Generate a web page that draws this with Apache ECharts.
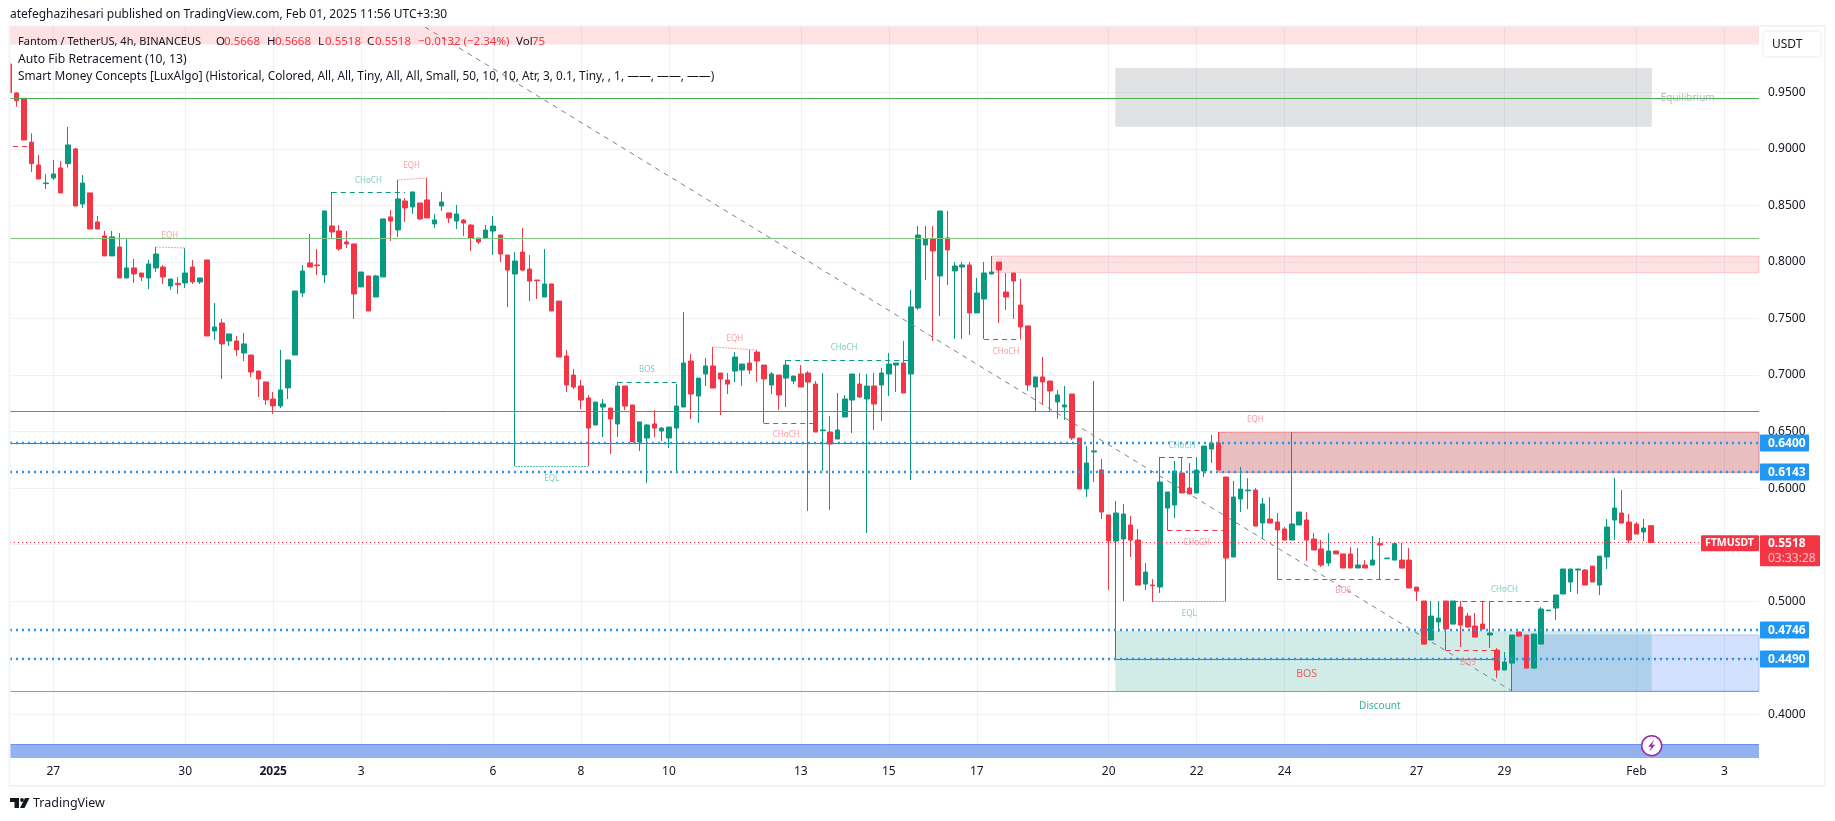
<!DOCTYPE html>
<html>
<head>
<meta charset="utf-8">
<style>
  html, body { margin: 0; padding: 0; background: #fff; }
  #myChart { width: 1835px; height: 821px; }
</style>
<script src="https://cdn.jsdelivr.net/npm/echarts@6/dist/echarts.min.js"></script>
</head>
<body>
<div id="myChart"></div>
<script>
// one row per 4h bar: open, close, low, high
const candles = [
  [0.9750,0.9497,0.9497,0.9750],
  [0.9494,0.9426,0.9373,0.9499],[0.9447,0.9078,0.9078,0.9447],[0.9058,0.8869,0.8795,0.9137],[0.8857,0.8733,0.8733,0.8946],
  [0.8692,0.8698,0.8645,0.8778],[0.8742,0.8778,0.8725,0.8901],[0.8831,0.8610,0.8610,0.8890],[0.8869,0.9034,0.8834,0.9193],
  [0.8999,0.8495,0.8495,0.9008],[0.8512,0.8698,0.8477,0.8769],[0.8610,0.8291,0.8291,0.8610],[0.8353,0.8291,0.8291,0.8406],
  [0.8230,0.8053,0.8053,0.8274],[0.8053,0.8221,0.8053,0.8274],[0.8132,0.7858,0.7858,0.8256],[0.7858,0.7947,0.7858,0.8212],
  [0.7947,0.7894,0.7814,0.8026],[0.7902,0.7867,0.7832,0.7902],[0.7858,0.7982,0.7761,0.8017],[0.7947,0.8070,0.7911,0.8132],
  [0.7955,0.7867,0.7805,0.7973],[0.7787,0.7849,0.7752,0.7849],[0.7811,0.7799,0.7717,0.7867],[0.7814,0.7902,0.7770,0.8123],
  [0.7955,0.7823,0.7805,0.8017],[0.7823,0.7858,0.7805,0.7858],[0.8017,0.7345,0.7345,0.8017],[0.7390,0.7425,0.7310,0.7637],
  [0.7460,0.7275,0.6965,0.7496],[0.7301,0.7363,0.7257,0.7363],[0.7301,0.7222,0.7169,0.7345],[0.7195,0.7275,0.7124,0.7372],
  [0.7177,0.7027,0.6983,0.7177],[0.7036,0.6965,0.6806,0.7036],[0.6939,0.6780,0.6735,0.6939],[0.6788,0.6727,0.6656,0.6850],
  [0.6727,0.6868,0.6709,0.7222],[0.6886,0.7133,0.6788,0.7133],[0.7177,0.7743,0.7177,0.7743],[0.7726,0.7920,0.7690,0.7973],
  [0.7991,0.7955,0.7955,0.8247],[0.7973,0.7967,0.7885,0.8115],[0.7885,0.8451,0.7814,0.8451],[0.8318,0.8265,0.8203,0.8619],
  [0.8274,0.8115,0.8097,0.8327],[0.8177,0.8159,0.8123,0.8274],[0.8159,0.7717,0.7496,0.8159],[0.7779,0.7911,0.7779,0.7911],
  [0.7876,0.7566,0.7566,0.7876],[0.7690,0.7876,0.7690,0.7885],[0.7867,0.8380,0.7867,0.8380],[0.8398,0.8362,0.8185,0.8459],
  [0.8283,0.8557,0.8221,0.8725],[0.8539,0.8477,0.8353,0.8565],[0.8486,0.8619,0.8424,0.8619],[0.8521,0.8380,0.8371,0.8521],
  [0.8548,0.8389,0.8389,0.8742],[0.8336,0.8371,0.8300,0.8424],[0.8495,0.8530,0.8451,0.8619],[0.8433,0.8389,0.8344,0.8433],
  [0.8362,0.8424,0.8291,0.8504],
  [0.8370,0.8344,0.8229,0.8379],[0.8326,0.8211,0.8096,0.8335],[0.8211,0.8176,0.8158,0.8211],[0.8211,0.8282,0.8211,0.8326],
  [0.8273,0.8317,0.8061,0.8406],[0.8238,0.8070,0.7999,0.8238],[0.8061,0.7928,0.7601,0.8061],[0.7893,0.8008,0.6195,0.8087],
  [0.8087,0.7928,0.7919,0.8300],[0.7937,0.7831,0.7654,0.8061],[0.7840,0.7834,0.7672,0.7840],[0.7690,0.7805,0.7690,0.8114],
  [0.7805,0.7566,0.7566,0.7805],[0.7654,0.7159,0.7159,0.7654],[0.7168,0.6912,0.6850,0.7221],[0.7000,0.6894,0.6876,0.7053],
  [0.6903,0.6779,0.6699,0.6956],[0.6797,0.6531,0.6195,0.6823],[0.6558,0.6761,0.6558,0.6761],[0.6717,0.6744,0.6452,0.6788],
  [0.6708,0.6611,0.6302,0.6708],[0.6567,0.6903,0.6452,0.6935],[0.6903,0.6726,0.6691,0.6903],[0.6735,0.6408,0.6408,0.6735],
  [0.6408,0.6585,0.6328,0.6585],[0.6443,0.6558,0.6045,0.6567],[0.6567,0.6531,0.6452,0.6691],[0.6505,0.6531,0.6417,0.6540],
  [0.6443,0.6540,0.6355,0.6540],[0.6531,0.6726,0.6142,0.6920],[0.6717,0.7106,0.6717,0.7557],[0.7124,0.6832,0.6611,0.7186],
  [0.6814,0.6973,0.6576,0.6973],[0.7009,0.7080,0.6903,0.7150],[0.7080,0.6885,0.6885,0.7248],[0.7018,0.6965,0.6646,0.7018],
  [0.6956,0.6920,0.6832,0.7018],[0.7035,0.7159,0.6938,0.7203],[0.7044,0.7097,0.6903,0.7097],[0.7106,0.7044,0.7009,0.7221],
  [0.7203,0.7124,0.6938,0.7221],[0.7088,0.6965,0.6573,0.7088],[0.6912,0.7009,0.6832,0.7027],[0.7000,0.6823,0.6691,0.7000],
  [0.6973,0.7088,0.6717,0.7133],[0.6947,0.6991,0.6920,0.6991],[0.7009,0.6894,0.6894,0.7088],[0.7018,0.6938,0.5798,0.7035],
  [0.6920,0.6496,0.6496,0.6947],[0.6508,0.6514,0.6151,0.7018],[0.6496,0.6390,0.5806,0.6638],[0.6434,0.6514,0.6434,0.6841],
  [0.6629,0.6788,0.6629,0.6823],[0.6779,0.7009,0.6487,0.7009],[0.6920,0.6806,0.6797,0.7018],[0.6788,0.6903,0.5603,0.7009],
  [0.6903,0.6744,0.6514,0.7018],[0.6912,0.7018,0.6593,0.7062],[0.7009,0.7097,0.6814,0.7195],[0.7088,0.7106,0.6850,0.7106],
  [0.7106,0.6841,0.6841,0.7301],
  [0.7009,0.7602,0.6072,0.7752],[0.7593,0.8238,0.7575,0.8318],[0.8150,0.8203,0.7840,0.8318],[0.8203,0.8097,0.7301,0.8318],
  [0.7876,0.8450,0.7522,0.8450],[0.8212,0.8106,0.7796,0.8450],[0.7920,0.7964,0.7319,0.7999],[0.7955,0.7973,0.7319,0.7999],
  [0.7973,0.7549,0.7354,0.7999],[0.7549,0.7725,0.7549,0.7858],[0.7672,0.7902,0.7319,0.7999],[0.7893,0.7911,0.7893,0.8052],
  [0.7999,0.7929,0.7460,0.7999],[0.7734,0.7690,0.7575,0.7902],[0.7902,0.7831,0.7496,0.7902],[0.7619,0.7425,0.7319,0.7849],
  [0.7434,0.6912,0.6859,0.7434],[0.6894,0.6983,0.6682,0.6983],[0.6983,0.6939,0.6735,0.7160],[0.6947,0.6859,0.6682,0.6947],
  [0.6762,0.6824,0.6611,0.6868],[0.6718,0.6735,0.6603,0.6903],[0.6832,0.6443,0.6426,0.6832],[0.6443,0.5993,0.5993,0.6443],
  [0.5993,0.6222,0.5922,0.6373],[0.6320,0.6329,0.6054,0.6947],[0.6161,0.5789,0.5727,0.6258],[0.5763,0.5533,0.5100,0.5763],
  [0.5532,0.5780,0.4489,0.5886],[0.5550,0.5771,0.5002,0.5860],[0.5674,0.5541,0.5391,0.5753],[0.5541,0.5143,0.5143,0.5639],
  [0.5152,0.5258,0.5099,0.5338],[0.5143,0.5138,0.4993,0.5196],[0.5126,0.6054,0.5073,0.6275],[0.5824,0.5966,0.5630,0.5966],
  [0.5851,0.6151,0.5736,0.6240],[0.6134,0.5957,0.5957,0.6275],[0.6001,0.5948,0.5948,0.6222],[0.5957,0.6160,0.5957,0.6275],
  [0.6151,0.6372,0.6098,0.6372],[0.6346,0.6399,0.6222,0.6470],[0.6399,0.6160,0.6160,0.6496],[0.6098,0.5382,0.5002,0.6098],
  [0.5391,0.5921,0.5391,0.6063],[0.5904,0.5992,0.5789,0.6187],[0.5977,0.5983,0.5815,0.6089],[0.5983,0.5665,0.5665,0.6001],
  [0.5692,0.5860,0.5550,0.5913],[0.5727,0.5692,0.5692,0.5921],[0.5700,0.5630,0.5194,0.5780],[0.5639,0.5541,0.5541,0.5656],
  [0.5541,0.5683,0.5541,0.6496],[0.5674,0.5789,0.5674,0.5789],[0.5718,0.5541,0.5356,0.5789],[0.5550,0.5453,0.5453,0.5603],
  [0.5462,0.5320,0.5303,0.5541],[0.5338,0.5444,0.5311,0.5603],[0.5444,0.5418,0.5418,0.5444],[0.5418,0.5294,0.5294,0.5418],
  [0.5418,0.5294,0.5294,0.5479],[0.5294,0.5320,0.5294,0.5471],[0.5320,0.5294,0.5294,0.5364],[0.5320,0.5364,0.5320,0.5577],
  [0.5509,0.5497,0.5194,0.5559],[0.5376,0.5382,0.5376,0.5382],[0.5364,0.5509,0.5364,0.5509],
  [0.5364,0.5293,0.5293,0.5514],[0.5364,0.5117,0.5117,0.5470],[0.5125,0.5090,0.5002,0.5125],[0.5002,0.4621,0.4621,0.5002],
  [0.4657,0.4869,0.4657,0.5002],[0.4816,0.4851,0.4728,0.5002],[0.5002,0.4754,0.4568,0.5002],[0.4798,0.5002,0.4798,0.5002],
  [0.4949,0.4789,0.4595,0.5002],[0.4869,0.4772,0.4763,0.4896],[0.4781,0.4683,0.4683,0.4896],[0.4798,0.4754,0.4754,0.5002],
  [0.4701,0.4719,0.4586,0.4993],[0.4568,0.4392,0.4321,0.4586],[0.4392,0.4462,0.4392,0.4551],[0.4453,0.4701,0.4206,0.4701],
  [0.4728,0.4692,0.4692,0.4728],[0.4701,0.4409,0.4409,0.4701],[0.4409,0.4710,0.4409,0.4710],[0.4621,0.4931,0.4621,0.4949],
  [0.4916,0.4922,0.4916,0.4922],[0.4940,0.5055,0.4834,0.5055],[0.5064,0.5285,0.5064,0.5285],[0.5170,0.5285,0.5081,0.5285],
  [0.5276,0.5285,0.5064,0.5285],[0.5276,0.5143,0.5143,0.5285],[0.5311,0.5170,0.5170,0.5311],[0.5143,0.5399,0.5055,0.5399],
  [0.5391,0.5656,0.5285,0.5727],[0.5718,0.5824,0.5541,0.6089],[0.5780,0.5691,0.5691,0.5983],[0.5700,0.5541,0.5514,0.5771],
  [0.5682,0.5594,0.5594,0.5700],[0.5612,0.5647,0.5532,0.5727],[0.5668,0.5518,0.5518,0.5668]
]

const priceTicks = [0.40,0.45,0.50,0.55,0.60,0.65,0.70,0.75,0.80,0.85,0.90,0.95]
const dayBars = [6,24,36,48,66,78,90,108,120,132,150,162,174,192,204,222,234]
const dayLabels = ['27','30','2025','3','6','8','10','13','15','17','20','22','24','27','29','Feb','3']

// price levels across the pane: price, colour
const solidLevels = [
  [0.9447,'#4caf50'],[0.8209,'#81c784'],[0.6679,'#ef4f4b'],[0.4206,'#8f97be'],[0.3737,'#6d93ee']
]
const dottedLevels = [0.6400,0.6143,0.4746,0.4490]
const lastPrice = 0.5518

// zones: bar from, bar to, price top, price bottom
const zoneTop = [0.0914,238.73,1.0077,0.9922]
const zoneSupply = [134,238.73,0.8052,0.7905]
const zoneBlock = [165.05,238.73,0.6493,0.6140]
const zoneEquilibrium = [150.9,224.1,0.9714,0.9195]
const zoneDiscount = [150.9,224.1,0.4737,0.4206]
const zoneBlue = [205,238.73,0.4701,0.4206]
const zoneBand = [0.0914,238.73,0.3737,0.3614]

// structure lines: bar from, bar to, price from, price to
const tealDashed = [[44,54,0.8615,0.8615],[83,91,0.6935,0.6935],[106,123,0.7130,0.7130],[157,162,0.6272,0.6272],[197,211,0.5002,0.5002]]
const redDashed = [[0.5,3,0.9022,0.9022],[103,110,0.6573,0.6573],[133,138,0.7319,0.7319],[158,166,0.5627,0.5627],[173,190,0.5194,0.5194],[196,203,0.4568,0.4568]]
const redDotted = [[20,24,0.8132,0.8123],[53,57,0.8725,0.8742],[96,102,0.7248,0.7221],[166,175,0.6493,0.6493]]
const tealDotted = [[69,79,0.6195,0.6195],[156,166,0.5002,0.5002]]
const redLines = [[0.0914,145.7,0.6396,0.6396],[151,203,0.4486,0.4486]]
const fibDiagonal = [56.7,205,1.0077,0.4206]

// annotations: bar, price, text, colour, font size
const notes = [
  [21.9,0.8235,'EQH','#f7838c',8],[49,0.8721,'CHoCH','#5cbfae',8],[54.9,0.8851,'EQH','#f7838c',8],
  [74,0.6087,'EQL','#5cbfae',8],[87,0.7050,'BOS','#5cbfae',8],[99,0.7321,'EQH','#f7838c',8],
  [113.9,0.7241,'CHoCH','#5cbfae',8],[106,0.6472,'CHoCH','#f7838c',8],[136,0.7210,'CHoCH','#f7838c',8],
  [160,0.6375,'CHoCH','#5cbfae',8],[161,0.4889,'EQL','#5cbfae',8],[162,0.5521,'CHoCH','#f7838c',8],
  [170,0.6605,'EQH','#f7838c',8],[182,0.5093,'BOS','#f7838c',8],[204,0.5102,'CHoCH','#5cbfae',8],
  [199,0.4456,'BOS','#f7838c',8],[177,0.4356,'BOS','#f23645',10.5],[187,0.4073,'Discount','#089981',10],
  [229,0.9452,'Equilibrium','#a4a7b0',10]
]

const blueTagLabels = ['0.6400','0.6143','0.4746','0.4490']
const headerRed = '#f23645'
const textFont = '"Noto Sans"'

const UP = '#089981'
const DOWN = '#f23645'

function segments(list, style) {
  return list.map(function (s) {
    return [{ coord: [s[0], s[2]], lineStyle: style }, { coord: [s[1], s[3]] }]
  })
}
function zone(z, style) {
  return [{ coord: [z[0], z[2]], itemStyle: style }, { coord: [z[1], z[3]] }]
}

const myChart = echarts.init(document.getElementById('myChart'), null, { renderer: 'canvas' })

const levelLines = [].concat(
  solidLevels.map(function (l) {
    return [{ coord: [0.0914, l[0]], lineStyle: { color: l[1], width: 1, type: 'solid' } }, { coord: [238.73, l[0]] }]
  }),
  segments(redLines, { color: '#d9474c', width: 1, type: 'solid' }),
  dottedLevels.map(function (p) {
    return [{ coord: [0.0914, p], lineStyle: { color: '#2196f3', width: 2.4, type: [2, 4] } }, { coord: [238.73, p] }]
  }),
  [[{ coord: [0.0914, lastPrice], lineStyle: { color: '#f23645', width: 1, type: [1, 3] } }, { coord: [238.73, lastPrice] }]]
)

const structure = [].concat(
  segments(tealDashed, { color: UP, width: 1, type: [5, 4] }),
  segments(redDashed, { color: DOWN, width: 1, type: [5, 4] }),
  segments(redDotted, { color: '#f7a0a6', width: 1, type: [2, 1] }),
  segments(tealDotted, { color: '#5cbfae', width: 1, type: [2, 1] }),
  [[{ coord: [fibDiagonal[0], fibDiagonal[2]], lineStyle: { color: '#7e8189', width: 1, type: [5, 5] } }, { coord: [fibDiagonal[1], fibDiagonal[3]] }]]
)

myChart.setOption({
  animation: false,
  backgroundColor: '#ffffff',
  grid: { left: 10, top: 27, width: 1749, height: 731, containLabel: false },
  xAxis: {
    type: 'value',
    min: 0.0914,
    max: 238.73,
    axisLine: { show: false },
    axisTick: { show: false, customValues: dayBars },
    axisLabel: {
      customValues: dayBars,
      margin: 8,
      color: '#131722',
      fontFamily: textFont,
      fontSize: 12,
      formatter: function (v) {
        const label = dayLabels[dayBars.indexOf(v)]
        return v === 36 ? '{b|' + label + '}' : label
      },
      rich: { b: { fontWeight: 'bold', color: '#131722', fontFamily: textFont, fontSize: 12 } }
    },
    splitLine: { show: true, lineStyle: { color: '#f0f1f4', width: 1 } }
  },
  yAxis: {
    type: 'value',
    position: 'right',
    min: 0.3614,
    max: 1.0077,
    axisLine: { show: false },
    axisTick: { show: false, customValues: priceTicks },
    axisLabel: {
      customValues: priceTicks,
      margin: 9,
      padding: [2, 0, 0, 0],
      color: '#131722',
      fontFamily: textFont,
      fontSize: 12,
      formatter: function (v) { return v.toFixed(4) }
    },
    splitLine: { show: true, lineStyle: { color: '#f0f1f4', width: 1 } }
  },
  series: [
    {
      name: 'zones',
      type: 'line',
      z: 1,
      data: [],
      silent: true,
      markArea: {
        silent: true,
        data: [
          zone(zoneTop, { color: 'rgba(242,54,69,0.15)' }),
          zone(zoneSupply, { color: 'rgba(242,54,69,0.15)', borderColor: 'rgba(242,54,69,0.2)', borderWidth: 1 }),
          zone(zoneBlock, { color: 'rgba(178,40,51,0.3)', borderColor: '#e0868e', borderWidth: 1 }),
          zone(zoneEquilibrium, { color: 'rgba(120,123,134,0.22)' }),
          zone(zoneDiscount, { color: 'rgba(8,153,129,0.19)' }),
          zone(zoneBlue, { color: 'rgba(41,98,255,0.2)', borderColor: '#b0c8f8', borderWidth: 1 }),
          zone(zoneBand, { color: '#94b2ef' })
        ]
      }
    },
    {
      name: 'levels',
      type: 'line',
      z: 2,
      data: [],
      silent: true,
      markLine: { silent: true, symbol: ['none', 'none'], label: { show: false }, data: levelLines }
    },
    {
      name: 'FTMUSDT',
      type: 'candlestick',
      z: 3,
      barWidth: 5,
      silent: true,
      itemStyle: { color: UP, color0: DOWN, borderColor: UP, borderColor0: DOWN, borderWidth: 1 },
      encode: { x: 0, y: [1, 2, 3, 4] },
      data: candles.map(function (c, i) { return [i, c[0], c[1], c[2], c[3]] })
    },
    {
      name: 'structure',
      type: 'line',
      z: 4,
      data: [],
      silent: true,
      markLine: { silent: true, symbol: ['none', 'none'], label: { show: false }, data: structure }
    },
    {
      name: 'notes',
      type: 'scatter',
      z: 5,
      symbolSize: 0,
      silent: true,
      data: notes.map(function (n) {
        return {
          value: [n[0], n[1]],
          label: {
            show: true,
            position: 'inside',
            formatter: n[2],
            color: n[3],
            fontSize: n[4],
            fontFamily: textFont
          }
        }
      })
    }
  ]
})

// chart furniture outside the pane
function text(str, x, y, fill, size, extra) {
  return {
    type: 'text',
    z: 50,
    silent: true,
    style: Object.assign({
      text: str, x: x, y: y + 1, fill: fill,
      font: size + 'px ' + textFont,
      verticalAlign: 'middle'
    }, extra || {})
  }
}
function tag(x, y, w, h, fill) {
  return { type: 'rect', z: 40, silent: true, shape: { x: x, y: y, width: w, height: h, r: 1 }, style: { fill: fill } }
}
function yOf(price) {
  return myChart.convertToPixel({ yAxisIndex: 0 }, price)
}

const lastY = yOf(lastPrice) + 0.7

const furniture = [
  { type: 'rect', z: 29, silent: true, shape: { x: 0, y: 20, width: 9, height: 770 }, style: { fill: '#fff' } },
  { type: 'rect', z: 30, silent: true, shape: { x: 9.5, y: 26, width: 1815.5, height: 760 }, style: { fill: 'none', stroke: '#f1f3f6', lineWidth: 2 } },
  text('atefeghazihesari published on TradingView.com, Feb 01, 2025 11:56 UTC+3:30', 10, 14, '#131722', 12),
  text('Fantom / TetherUS, 4h, BINANCEUS', 18, 41, '#131722', 11),
  text('O', 216, 41, '#131722', 11.5), text('0.5668', 224, 41, headerRed, 11.5),
  text('H', 267, 41, '#131722', 11.5), text('0.5668', 275, 41, headerRed, 11.5),
  text('L', 318, 41, '#131722', 11.5), text('0.5518', 325, 41, headerRed, 11.5),
  text('C', 367, 41, '#131722', 11.5), text('0.5518', 375, 41, headerRed, 11.5),
  text('\u22120.0132 (\u22122.34%)', 418, 41, headerRed, 11.5),
  text('Vol', 516, 41, '#131722', 11.5), text('75', 532, 41, headerRed, 11.5),
  text('Auto Fib Retracement (10, 13)', 18, 58.5, '#131722', 12.2),
  text('Smart Money Concepts [LuxAlgo] (Historical, Colored, All, All, Tiny, All, All, Small, 50, 10, 10, Atr, 3, 0.1, Tiny, , 1, \u2014\u2014, \u2014\u2014, \u2014\u2014)', 18, 75.5, '#131722', 11.85),

  { type: 'rect', z: 30, silent: true, shape: { x: 1763, y: 31, width: 58, height: 26, r: 4 }, style: { fill: '#fff', stroke: '#f0f3fa', lineWidth: 1.5 } },
  text('USDT', 1772, 44, '#131722', 12),

  tag(1701, lastY - 8, 58, 16, DOWN),
  text('FTMUSDT', 1705, lastY - 1, '#fff', 11, { font: 'bold 10.5px ' + textFont }),
  tag(1760, lastY - 8, 60, 31, DOWN),
  text('0.5518', 1768, lastY - 1, '#fff', 12, { font: 'bold 12px ' + textFont }),
  text('03:33:28', 1768, lastY + 14, '#fbc4c9', 12),

  // lightning marker
  { type: 'circle', z: 40, silent: true, shape: { cx: 1651.7, cy: 745.7, r: 10 }, style: { fill: '#fff', stroke: '#9c27b0', lineWidth: 1.5 } },
  { type: 'polygon', z: 41, silent: true, shape: { points: [[1654.2, 739.7], [1648.2, 746.7], [1651.4, 746.7], [1649.2, 751.7], [1655.2, 744.7], [1652, 744.7]] }, style: { fill: '#9c27b0' } },

  // TradingView mark
  { type: 'polygon', z: 40, silent: true, shape: { points: [[10, 798], [19, 798], [19, 808], [14.5, 808], [14.5, 802], [10, 802]] }, style: { fill: '#131722' } },
  { type: 'circle', z: 40, silent: true, shape: { cx: 22, cy: 800, r: 1.9 }, style: { fill: '#131722' } },
  { type: 'polygon', z: 40, silent: true, shape: { points: [[25, 798], [29.5, 798], [24.5, 808], [20, 808]] }, style: { fill: '#131722' } },
  text('TradingView', 33, 802.5, '#131722', 12.5)
]

dottedLevels.forEach(function (p, i) {
  furniture.push(tag(1760, yOf(p) - 8.5, 49, 17, '#2196f3'))
  furniture.push(text(blueTagLabels[i], 1768, yOf(p) - 0.5, '#fff', 12, { font: 'bold 12px ' + textFont }))
})

myChart.setOption({ graphic: { elements: furniture } })
</script>
</body>
</html>
